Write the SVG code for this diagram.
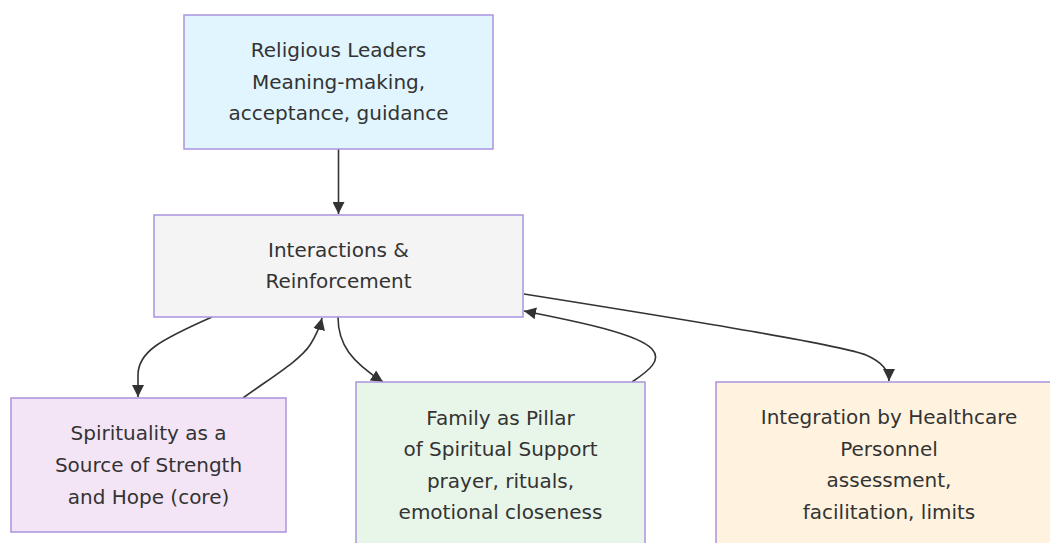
<svg xmlns="http://www.w3.org/2000/svg" width="1050" height="543" viewBox="0 0 1050 543">
<style>
.node rect{stroke:#ab93de;stroke-width:1.5}
.node text{font-family:"DejaVu Sans",sans-serif;font-size:20px;fill:#333;text-anchor:middle}
.edge{fill:none;stroke:#333;stroke-width:1.6}
</style>
<defs>
<marker id="ah" viewBox="0 0 10 10" refX="10" refY="5" markerWidth="12" markerHeight="12" markerUnits="userSpaceOnUse" orient="auto">
<path d="M0,0 L10,5 L0,10 z" fill="#333"/>
</marker>
</defs>
<rect width="1050" height="543" fill="#fff"/>
<g id="connectors">
<path class="edge" d="M338.5,149 L338.5,214" marker-end="url(#ah)"/>
<path class="edge" d="M212,317 C160,340 138,352 138,375 L138,397" marker-end="url(#ah)"/>
<path class="edge" d="M243,398 C275,375 300,360 310,345 C317,334 320,326 322,318" marker-end="url(#ah)"/>
<path class="edge" d="M338,317 C338,345 352,362 383,382" marker-end="url(#ah)"/>
<path class="edge" d="M632,382 C650,370 662,360 652,349 C638,334 580,322 524,311" marker-end="url(#ah)"/>
<path class="edge" d="M524,294 C700,322 840,345 866,355 C882,362 889,370 889,381" marker-end="url(#ah)"/>
</g>
<g id="religious" class="node">
<rect x="184" y="15" width="309" height="134" fill="#e1f5fe"/>
<text x="338.5" y="57">Religious Leaders</text>
<text x="338.5" y="89">Meaning-making,</text>
<text x="338.5" y="120">acceptance, guidance</text>
</g>
<g id="interactions" class="node">
<rect x="154" y="215" width="369" height="102" fill="#f4f4f4"/>
<text x="338.5" y="257">Interactions &amp;</text>
<text x="338.5" y="288">Reinforcement</text>
</g>
<g id="spirituality" class="node">
<rect x="11" y="398" width="275" height="134" fill="#f3e5f5"/>
<text x="148.5" y="440">Spirituality as a</text>
<text x="148.5" y="472">Source of Strength</text>
<text x="148.5" y="504">and Hope (core)</text>
</g>
<g id="family" class="node">
<rect x="356" y="382" width="289" height="166" fill="#e8f5e9"/>
<text x="500.5" y="425">Family as Pillar</text>
<text x="500.5" y="456">of Spiritual Support</text>
<text x="500.5" y="488">prayer, rituals,</text>
<text x="500.5" y="519">emotional closeness</text>
</g>
<g id="healthcare" class="node">
<rect x="716" y="382" width="346" height="166" fill="#fff3e0"/>
<text x="889" y="424">Integration by Healthcare</text>
<text x="889" y="456">Personnel</text>
<text x="889" y="487">assessment,</text>
<text x="889" y="519">facilitation, limits</text>
</g>
</svg>
